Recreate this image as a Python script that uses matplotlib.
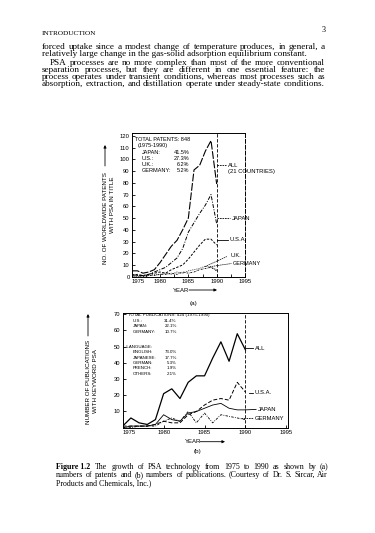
import matplotlib
matplotlib.use("Agg")
import matplotlib.pyplot as plt
from matplotlib.ticker import MultipleLocator

W, H = 375, 533

years = list(range(1975, 1991))

# (a) worldwide patents with PSA in title
pat_all = [5, 5, 3, 4, 6, 12, 19, 26, 31, 40, 50, 91, 95, 107, 116, 79]
pat_japan = [2, 1, 1, 2, 4, 6, 8, 12, 16, 24, 38, 46, 54, 61, 70, 45]
pat_usa = [1, 2, 1, 2, 3, 4, 3, 6, 8, 10, 15, 21, 27, 32, 32, 27]
pat_uk = [1, 0, 1, 1, 2, 2, 3, 2, 4, 3, 5, 6, 7, 9, 8, 6]
pat_germany = [0, 1, 0, 1, 1, 2, 2, 3, 2, 4, 3, 4, 6, 7, 8, 5]

# (b) publications with keyword PSA
pub_all = [1, 6, 3, 2, 5, 21, 24, 18, 28, 32, 32, 43, 53, 41, 58, 48]
pub_usa = [1, 1, 1, 1, 2, 4, 3, 3, 8, 10, 14, 17, 18, 17, 28, 22]
pub_japan = [0, 1, 1, 1, 2, 8, 5, 4, 9, 10, 12, 14, 15, 12, 11, 11]
pub_germany = [0, 0, 1, 1, 1, 4, 6, 4, 10, 3, 9, 3, 8, 7, 6, 5]

year_ticks = [1975, 1980, 1985, 1990, 1995]

pat_legend = [("JAPAN:", "41.5%"), ("U.S.:", "27.3%"), ("U.K.:", "6.2%"), ("GERMANY:", "5.2%")]
pub_country = [("U.S.:", "31.4%"), ("JAPAN:", "22.1%"), ("GERMANY:", "10.7%")]
pub_language = [("ENGLISH:", "73.0%"), ("JAPANESE:", "17.7%"), ("GERMAN:", "5.3%"),
                ("FRENCH:", "1.9%"), ("OTHERS:", "2.1%")]

para_lines = [
    ("forced uptake since a modest change of temperature produces, in general, a", 42, 47, True),
    ("relatively large change in the gas-solid adsorption equilibrium constant.", 42, 54, False),
    ("PSA processes are no more complex than most of the more conventional", 50, 63, True),
    ("separation processes, but they are different in one essential feature: the", 42, 70, True),
    ("process operates under transient conditions, whereas most processes such as", 42, 77, True),
    ("absorption, extraction, and distillation operate under steady-state conditions.", 42, 84, True),
]
caption_lines = [
    ("numbers of patents and (b) numbers of publications. (Courtesy of Dr. S. Sircar, Air", 56, 475, True),
    ("Products and Chemicals, Inc.)", 56, 483, False),
]
caption_first = "The growth of PSA technology from 1975 to 1990 as shown by (a)"

SANS = "Liberation Sans"
SERIF = "Liberation Serif"
plt.rcParams["font.family"] = [SANS, "DejaVu Sans"]

fig = plt.figure(figsize=(W / 100, H / 100), dpi=100)
fig.patch.set_facecolor("white")
renderer = fig.canvas.get_renderer()


def ftext(x, y, s, **kw):
    return fig.text(x / W, 1 - y / H, s, **kw)


def text_width(s, size, **kw):
    t = ftext(0, 0, s, fontsize=size, family=SERIF, **kw)
    w = t.get_window_extent(renderer).width
    t.remove()
    return w


def text_line(s, x0, x1, y, size, justify):
    if not justify:
        ftext(x0, y, s, fontsize=size, family=SERIF, va="center", ha="left")
        return
    words = s.split()
    widths = [text_width(w, size) for w in words]
    gap = (x1 - x0 - sum(widths)) / (len(words) - 1)
    x = x0
    for w, wd in zip(words, widths):
        ftext(x, y, w, fontsize=size, family=SERIF, va="center", ha="left")
        x += wd + gap


def arrow(x0, y0, x1, y1):
    fig.add_artist(plt.Annotation("", xy=(x1 / W, 1 - y1 / H), xytext=(x0 / W, 1 - y0 / H),
                                  xycoords="figure fraction",
                                  arrowprops=dict(arrowstyle="-|>", lw=0.6, color="k",
                                                  mutation_scale=4, shrinkA=0, shrinkB=0)))


# page text
ftext(42, 33.5, "INTRODUCTION", fontsize=5.2, family=SERIF, va="center")
ftext(322, 29.5, "3", fontsize=5.8, family=SERIF, va="center")
for s, x0, y, just in para_lines:
    text_line(s, x0, 325, y, 6.6, just)

cap_size = 5.7
fig_lab = "Figure 1.2"
ftext(56, 467, fig_lab, fontsize=cap_size, family=SERIF, weight="bold", va="center")
x_first = 56 + text_width(fig_lab, cap_size, weight="bold") + 5
text_line(caption_first, x_first, 328, 467, cap_size, True)
for s, x0, y, just in caption_lines:
    text_line(s, x0, 328, y, cap_size, just)

# ---------------- (a) patents ----------------
ax1 = fig.add_axes([131.7 / W, 1 - 276.7 / H, 113.3 / W, 143.7 / H])
ax1.plot(years, pat_all, color="k", lw=0.8, ls=(0, (7, 1.5)))
ax1.plot(years, pat_japan, color="k", lw=0.7, ls=(0, (4, 1.5, 1, 1.5)))
ax1.plot(years, pat_usa, color="k", lw=0.7, ls=(0, (2.5, 1.5)))
ax1.plot(years, pat_uk, color="k", lw=0.6, ls=(0, (1, 1.5)))
ax1.plot(years, pat_germany, color="k", lw=0.6, ls=(0, (2, 1, 0.5, 1)))
ax1.axvline(1990, color="k", lw=0.6, ls=(0, (4, 2)))
ax1.set_xlim(1975, 1995)
ax1.set_ylim(0, 122.5)
ax1.set_xticks(year_ticks)
ax1.set_xticklabels([str(y) for y in year_ticks])
ax1.get_xticklabels()[0].set_ha("left")
ax1.xaxis.set_minor_locator(MultipleLocator(2.5))
ax1.set_yticks(range(0, 121, 10))
ax1.tick_params(which="both", direction="in", length=2.5, width=0.6, labelsize=4.2, pad=1.5)
ax1.tick_params(axis="x", which="minor", length=2)
for sp in ax1.spines.values():
    sp.set_linewidth(0.7)
ax1.spines["right"].set_linestyle((0, (4, 2)))

lx, vx = 1976.76, 1985.2
ax1.text(1975.6, 117, "TOTAL PATENTS: 848", fontsize=4.0, va="center")
ax1.text(1976.1, 111.9, "(1975-1990)", fontsize=4.0, va="center")
for (lab, val), yy in zip(pat_legend, [106.3, 100.9, 95.6, 90.5]):
    ax1.text(lx, yy, lab, fontsize=4.0, va="center")
    ax1.text(vx, yy, val, fontsize=4.0, va="center", ha="right")

ax1.plot([1990, 1991.7], [95, 95], color="k", lw=0.6, ls=(0, (2, 1)), clip_on=False)
ax1.text(1992.0, 95.2, "ALL", fontsize=4.2, va="center")
ax1.text(1992.0, 89.5, "(21 COUNTRIES)", fontsize=4.2, va="center")
ax1.plot([1990, 1992.3], [50, 50], color="k", lw=0.6, ls=(0, (2, 1)), clip_on=False)
ax1.text(1992.6, 50, "JAPAN", fontsize=4.2, va="center")
ax1.plot([1990, 1992.0], [31.3, 31.3], color="k", lw=0.6, clip_on=False)
ax1.text(1992.3, 31.3, "U.S.A.", fontsize=4.2, va="center")
ax1.plot([1987.9, 1991.9], [8.5, 17.4], color="k", lw=0.5, ls=(0, (2, 1)), clip_on=False)
ax1.text(1992.4, 17.8, "U.K.", fontsize=4.0, va="center")
ax1.plot([1988.8, 1990.8, 1992.6], [8.5, 10, 11.2], color="k", lw=0.5, ls=(0, (2, 1)), clip_on=False)
ax1.text(1992.9, 11.4, "GERMANY", fontsize=4.0, va="center")

ftext(105, 218, "NO. OF WORLDWIDE PATENTS", fontsize=4.5, rotation=90, ha="center", va="center")
arrow(105, 166, 105, 145)
ftext(112, 205, "WITH PSA IN TITLE", fontsize=4.5, rotation=90, ha="center", va="center")
ftext(173, 290, "YEAR", fontsize=4.3, va="center")
arrow(189, 290, 217, 290)
ftext(194, 303, "(a)", fontsize=4.5, ha="center", va="center")

# ---------------- (b) publications ----------------
ax2 = fig.add_axes([122.7 / W, 1 - 427.7 / H, 165.3 / W, 114.4 / H])
ax2.plot(years, pub_all, color="k", lw=0.9)
ax2.plot(years, pub_usa, color="k", lw=0.7, ls=(0, (4, 2)))
ax2.plot(years, pub_japan, color="k", lw=0.6)
ax2.plot(years, pub_germany, color="k", lw=0.6, ls=(0, (3, 1.5, 1, 1.5)))
ax2.axvline(1990, color="k", lw=0.6, ls=(0, (4, 2)))
ax2.set_xlim(1975, 1995.2)
ax2.set_ylim(0, 70.6)
ax2.set_xticks(year_ticks)
ax2.set_xticklabels([str(y) for y in year_ticks])
ax2.get_xticklabels()[0].set_ha("left")
ax2.set_yticks(range(10, 71, 10))
ax2.tick_params(direction="in", length=2.5, width=0.6, labelsize=4.2, pad=1.5)
for sp in ax2.spines.values():
    sp.set_linewidth(0.7)

ax2.text(1975.64, 69.6, "TOTAL PUBLICATIONS: 424 (1975-1990)", fontsize=3.2, va="center")
for (lab, val), yy in zip(pub_country, [65.9, 62.5, 59.1]):
    ax2.text(1976.2, yy, lab, fontsize=3.2, va="center")
    ax2.text(1981.6, yy, val, fontsize=3.2, va="center", ha="right")
ax2.text(1975.1, 50.1, "\u2013LANGUAGE:", fontsize=3.2, va="center")
for (lab, val), yy in zip(pub_language, [46.7, 43.3, 39.9, 36.7, 33.3]):
    ax2.text(1976.2, yy, lab, fontsize=3.2, va="center")
    ax2.text(1981.6, yy, val, fontsize=3.2, va="center", ha="right")

ax2.plot([1990, 1990.9], [49, 49], color="k", lw=0.6, clip_on=False)
ax2.text(1991.2, 49, "ALL", fontsize=4.2, va="center")
ax2.plot([1990.4, 1990.9], [21.6, 21.6], color="k", lw=0.6, clip_on=False)
ax2.text(1991.1, 21.6, "U.S.A.", fontsize=4.2, va="center")
ax2.plot([1990, 1991.3], [11, 11.3], color="k", lw=0.6, clip_on=False)
ax2.text(1991.5, 11.4, "JAPAN", fontsize=4.2, va="center")
ax2.plot([1989.5, 1990.9], [5.8, 5.8], color="k", lw=0.6, ls=(0, (2, 1)), clip_on=False)
ax2.text(1991.1, 5.8, "GERMANY", fontsize=4.2, va="center")

ftext(88, 382, "NUMBER OF PUBLICATIONS", fontsize=4.5, rotation=90, ha="center", va="center")
arrow(88, 336, 88, 314)
ftext(95, 381, "WITH KEYWORD PSA", fontsize=4.5, rotation=90, ha="center", va="center")
ftext(185, 441.7, "YEAR", fontsize=4.3, va="center")
arrow(200, 441.7, 225, 441.7)
ftext(197, 452, "(b)", fontsize=4.5, ha="center", va="center")

fig.savefig("out.png", dpi=100, facecolor="white")
